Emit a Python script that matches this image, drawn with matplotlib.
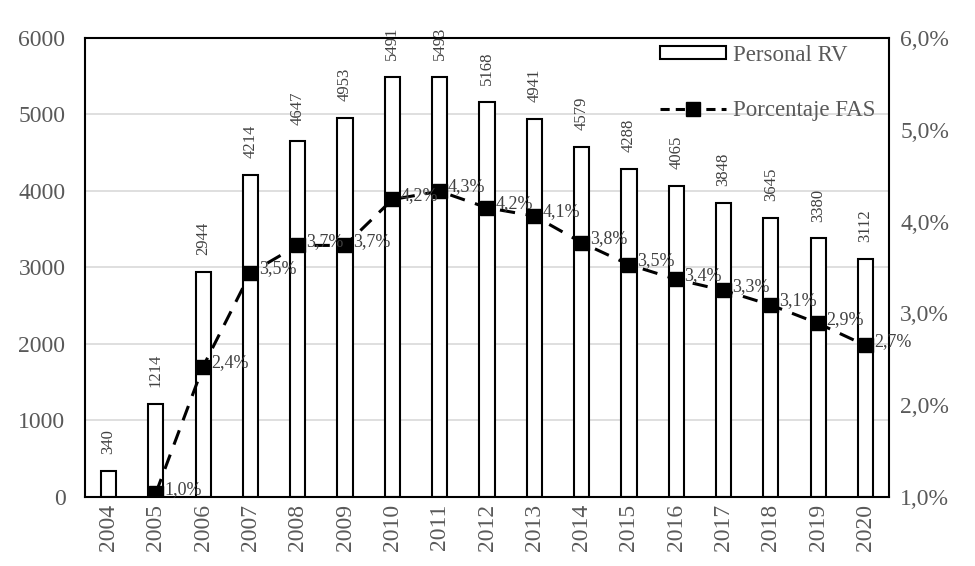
import matplotlib
matplotlib.use('Agg')
import matplotlib.pyplot as plt
from matplotlib.ticker import FuncFormatter
from matplotlib.lines import Line2D
from matplotlib.patches import Patch

plt.rcParams['font.family'] = ['Liberation Serif', 'DejaVu Serif']

years = ['2004', '2005', '2006', '2007', '2008', '2009', '2010', '2011', '2012',
         '2013', '2014', '2015', '2016', '2017', '2018', '2019', '2020']
personal_rv = [340, 1214, 2944, 4214, 4647, 4953, 5491, 5493, 5168,
               4941, 4579, 4288, 4065, 3848, 3645, 3380, 3112]
# porcentaje FAS (desde 2005), posiciones
fas_years = years[1:]
fas_pct = [1.04, 2.42, 3.44, 3.74, 3.74, 4.24, 4.33, 4.15,
           4.06, 3.77, 3.53, 3.37, 3.25, 3.09, 2.89, 2.65]
fas_labels = ['1,0%', '2,4%', '3,5%', '3,7%', '3,7%', '4,2%', '4,3%', '4,2%',
              '4,1%', '3,8%', '3,5%', '3,4%', '3,3%', '3,1%', '2,9%', '2,7%']

gray = '#595959'

fig = plt.figure(figsize=(9.75, 5.66), dpi=100)
ax = fig.add_axes([0.087, 0.122, 0.825, 0.811])

x = list(range(len(years)))
ax.bar(x, personal_rv, width=0.32, color='white', edgecolor='black', linewidth=1.5, zorder=2)
for xi, v in zip(x, personal_rv):
    ax.annotate(str(v), (xi, v), xytext=(0, 12), textcoords='offset points',
                rotation=90, ha='center', va='bottom', fontsize=12, color='#404040',
                annotation_clip=False)

ax.set_ylim(0, 6000)
ax.set_xlim(-0.5, len(years) - 0.5)
ax.set_yticks(range(0, 6001, 1000))
ax.set_xticks(x)
ax.set_xticklabels(years, rotation=90)
ax.yaxis.grid(True, color='#d9d9d9', linewidth=1.2, zorder=0)
ax.set_axisbelow(True)
ax.tick_params(axis='y', length=0, labelsize=17, labelcolor=gray, pad=14)
ax.tick_params(axis='x', length=0, labelsize=17, labelcolor=gray, pad=5)
for sp in ax.spines.values():
    sp.set_linewidth(1.5)
    sp.set_color('black')

ax2 = ax.twinx()
ax2.set_ylim(1.0, 6.0)
ax2.set_yticks([1, 2, 3, 4, 5, 6])
ax2.yaxis.set_major_formatter(FuncFormatter(lambda v, p: ('%.1f%%' % v).replace('.', ',')))
ax2.tick_params(axis='y', length=0, labelsize=17, labelcolor=gray, pad=8)
fx = [years.index(y) for y in fas_years]
ax2.plot(fx, fas_pct, color='black', linestyle=(0, (5, 3.5)), linewidth=2.2,
         marker='s', markersize=9.5, zorder=3)
for xi, v, lab in zip(fx, fas_pct, fas_labels):
    ax2.annotate(lab, (xi, v), xytext=(6, 3), textcoords='offset points',
                 ha='left', va='center', fontsize=13, color='#404040')
for sp in ax2.spines.values():
    sp.set_visible(False)

handles = [Patch(facecolor='white', edgecolor='black', linewidth=1.5, label='Personal RV'),
           Line2D([0], [0], color='black', linestyle=(0, (3, 2)), linewidth=2.2,
                  marker='s', markersize=9.5, label='Porcentaje FAS')]
leg = ax2.legend(handles=handles, loc='upper right', frameon=False, fontsize=16.5,
                 handlelength=2.9, handleheight=0.5, labelspacing=1.5,
                 borderaxespad=0.0, handletextpad=0.3, borderpad=0.0,
                 bbox_to_anchor=(0.983, 0.985))
for t in leg.get_texts():
    t.set_color(gray)

fig.savefig('out.png', dpi=100)
